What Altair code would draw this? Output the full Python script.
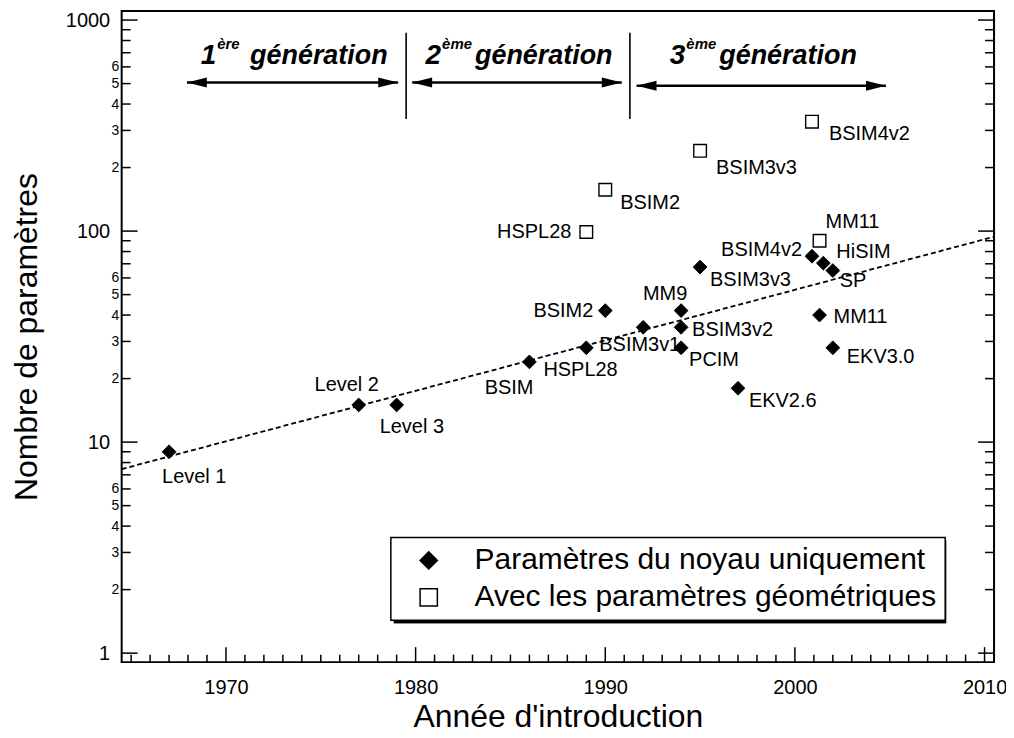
import altair as alt
import pandas as pd

FONT = "Liberation Sans"

# ---------------- data ----------------
SERIES = ["Paramètres du noyau uniquement", "Avec les paramètres géométriques"]

CORE_NAMES = ["Level 1", "Level 2", "Level 3", "BSIM", "HSPL28", "BSIM2", "BSIM3v1",
              "MM9", "BSIM3v2", "PCIM", "BSIM3v3", "EKV2.6", "BSIM4v2", "MM11",
              "HiSIM", "SP", "EKV3.0"]
CORE_YEARS = [1967, 1977, 1979, 1986, 1989, 1990, 1992,
              1994, 1994, 1994, 1995, 1997, 2000.9, 2001.3,
              2001.5, 2002, 2002]
CORE_PARAMS = [9, 15, 15, 24, 28, 42, 35,
               42, 35, 28, 67.5, 18, 76, 40,
               70.5, 65, 28]

GEOM_NAMES = ["HSPL28", "BSIM2", "BSIM3v3", "BSIM4v2", "MM11"]
GEOM_YEARS = [1989, 1990, 1995, 2000.9, 2001.3]
GEOM_PARAMS = [99, 157, 240, 330, 90]

TREND_YEARS = [1964.5, 2010.5]
TREND_PARAMS = [7.45, 94]

GEN_CENTERS = [1973.48, 1985.34, 1998.22]
GEN_NUMBERS = ["1", "2", "3"]
GEN_SUPERS = ["ère", "ème", "ème"]
GEN_WORD = "génération"
GEN_BOUNDARIES = [1979.5, 1991.3]
ARROW_START = [1967.94, 1979.82, 1991.65]
ARROW_END = [1979.08, 1990.87, 2004.80]

X_LABELS = [1970, 1980, 1990, 2000, 2010]
X_MINOR = [y for y in range(1965, 2011) if y % 10 != 0]
Y_MAJOR = [1, 10, 100, 1000]
Y_MINOR = [m * 10 ** e for e in range(3) for m in range(2, 10)]
Y_LABELS = [1, 2, 3, 4, 5, 6, 10, 20, 30, 40, 50, 60, 100, 200, 300, 400, 500, 600, 1000]

# label placement: (align, dx, dy)
CORE_LABEL_POS = {
    "Level 1": ("left", -7, 25), "Level 2": ("center", -12, -20),
    "Level 3": ("left", -17, 22), "BSIM": ("right", 4, 26),
    "HSPL28": ("left", -43, 22), "BSIM2": ("right", -12, 0),
    "BSIM3v1": ("left", -44, 18), "MM9": ("center", -16, -17),
    "BSIM3v2": ("left", 11, 3), "PCIM": ("left", 8, 12),
    "BSIM3v3": ("left", 10, 13), "EKV2.6": ("left", 11, 13),
    "BSIM4v2": ("right", -10, -6), "MM11": ("left", 14, 2),
    "HiSIM": ("left", 13, -11), "SP": ("left", 7, 10),
    "EKV3.0": ("left", 14, 9),
}
GEOM_LABEL_POS = {
    "HSPL28": ("right", -15, 0), "BSIM2": ("left", 15, 13),
    "BSIM3v3": ("left", 16, 17), "BSIM4v2": ("left", 17, 12),
    "MM11": ("left", 6, -19),
}

W, H = 875, 653

core_df = pd.DataFrame({"name": CORE_NAMES, "year": CORE_YEARS, "params": CORE_PARAMS, "series": SERIES[0]})
geom_df = pd.DataFrame({"name": GEOM_NAMES, "year": GEOM_YEARS, "params": GEOM_PARAMS, "series": SERIES[1]})
trend_df = pd.DataFrame({"year": TREND_YEARS, "params": TREND_PARAMS})
gen_df = pd.DataFrame({"year": GEN_CENTERS, "num": GEN_NUMBERS, "sup": GEN_SUPERS, "word": GEN_WORD})
bound_df = pd.DataFrame({"year": GEN_BOUNDARIES})
arrow_df = pd.DataFrame({"year": ARROW_START, "year_end": ARROW_END, "idx": [0, 1, 2]})

major_test = "datum.value == 1 || datum.value == 10 || datum.value == 100 || datum.value == 1000"
x_scale = alt.Scale(domain=[1964.5, 2010.5], nice=False, zero=False)

x_enc = alt.X(
    "year:Q",
    scale=x_scale,
    axis=alt.Axis(values=X_LABELS, format="d", ticks=False, domain=False, grid=False,
                  labelFontSize=20, labelFont=FONT, labelColor="black", labelPadding=15,
                  labelFlush=False, labelOverlap=False,
                  title="Année d'introduction", titleFont=FONT, titleFontSize=32,
                  titleFontWeight="normal", titleColor="black", titlePadding=5),
)
y_enc = alt.Y(
    "params:Q",
    scale=alt.Scale(type="log", domain=[0.9066, 1103], nice=False),
    axis=alt.Axis(values=Y_LABELS, ticks=False, domain=False, grid=False,
                  labelExpr="(" + major_test + ") ? format(datum.value, 'd') : "
                            "format(datum.value / pow(10, floor(log(datum.value) / LN10 + 1e-6)), '.0f')",
                  labelFontSize={"condition": {"test": major_test, "value": 20}, "value": 14},
                  labelPadding={"condition": {"test": major_test, "value": 12}, "value": 3},
                  labelFont=FONT, labelColor="black", labelOverlap=False, labelFlush=False,
                  title="Nombre de paramètres", titleFont=FONT, titleFontSize=32,
                  titleFontWeight="normal", titleColor="black", titlePadding=22),
)

LEG_X, LEG_Y, LEG_W, LEG_H = 270, 528, 554, 83
legend = alt.Legend(orient="none", legendX=LEG_X, legendY=LEG_Y, title=None, direction="vertical",
                    labelFont=FONT, labelFontSize=30, labelColor="black", labelLimit=0,
                    labelOffset=31, symbolOffset=15, padding=8, rowPadding=7,
                    symbolSize=300, symbolStrokeColor="black", symbolStrokeWidth=1.5,
                    strokeColor="black", fillColor="white", zindex=3)
shape_enc = alt.Shape("series:N", scale=alt.Scale(domain=SERIES, range=["diamond", "square"]), legend=legend)
fill_enc = alt.Fill("series:N", scale=alt.Scale(domain=SERIES, range=["black", "white"]), legend=legend)
stroke_enc = alt.Stroke("series:N", scale=alt.Scale(domain=SERIES, range=["black", "black"]), legend=legend)

layers = []

# trend line
layers.append(alt.Chart(trend_df).mark_line(color="black", strokeWidth=1.8, strokeDash=[5, 3])
              .encode(x=x_enc, y=y_enc))

# ticks (inward)
xmaj = pd.DataFrame({"year": X_LABELS})
xmin = pd.DataFrame({"year": X_MINOR})
ymaj = pd.DataFrame({"params": Y_MAJOR})
ymin = pd.DataFrame({"params": Y_MINOR})
tick_style = dict(color="black", strokeWidth=1.5)
layers.append(alt.Chart(xmaj).mark_rule(**tick_style).encode(x=x_enc, y=alt.value(H), y2=alt.value(H - 15)))
layers.append(alt.Chart(xmin).mark_rule(**tick_style).encode(x=x_enc, y=alt.value(H), y2=alt.value(H - 7.5)))
for x0, sgn in [(0, 1), (W, -1)]:
    layers.append(alt.Chart(ymaj).mark_rule(**tick_style).encode(y=y_enc, x=alt.value(x0), x2=alt.value(x0 + sgn * 16)))
    layers.append(alt.Chart(ymin).mark_rule(**tick_style).encode(y=y_enc, x=alt.value(x0), x2=alt.value(x0 + sgn * 9)))

# generation boundaries
layers.append(alt.Chart(bound_df).mark_rule(color="black", strokeWidth=1.6)
              .encode(x=x_enc, y=alt.value(21.7), y2=alt.value(108.3)))

# arrows
ARROW_Y = [71.7, 71.7, 75.0]
LEFT_HEAD = "M0,0L2,-0.5L2,0.5Z"
RIGHT_HEAD = "M0,0L-2,-0.5L-2,0.5Z"
for i in range(3):
    base = alt.Chart(arrow_df).transform_filter(alt.datum.idx == i)
    layers.append(base.mark_rule(color="black", strokeWidth=2.5)
                  .encode(x=x_enc, x2=alt.X2("year_end:Q"), y=alt.value(ARROW_Y[i])))
    layers.append(base.mark_point(shape=LEFT_HEAD, size=400, filled=True, color="black", opacity=1)
                  .encode(x=x_enc, y=alt.value(ARROW_Y[i])))
    layers.append(base.mark_point(shape=RIGHT_HEAD, size=400, filled=True, color="black", opacity=1)
                  .encode(x=alt.X("year_end:Q", scale=x_scale), y=alt.value(ARROW_Y[i])))

# generation headings
head_style = dict(font=FONT, fontStyle="italic", fontWeight="bold", color="black", baseline="alphabetic")
gen = alt.Chart(gen_df)
layers.append(gen.mark_text(align="right", dx=-76, fontSize=28, **head_style)
              .encode(x=x_enc, y=alt.value(53.3), text="num:N"))
layers.append(gen.mark_text(align="left", dx=-75, fontSize=15, **head_style)
              .encode(x=x_enc, y=alt.value(38.5), text="sup:N"))
layers.append(gen.mark_text(align="left", dx=-42, fontSize=27, **head_style)
              .encode(x=x_enc, y=alt.value(53.3), text="word:N"))

# legend drop shadow
layers.append(alt.Chart(trend_df).mark_rect(color="black")
              .encode(x=alt.value(LEG_X + 3), x2=alt.value(LEG_X + 3 + LEG_W),
                      y=alt.value(LEG_Y + 3), y2=alt.value(LEG_Y + 3 + LEG_H)))

# points
layers.append(alt.Chart(core_df).mark_point(filled=True, size=190, strokeWidth=1,
                                            opacity=1, fillOpacity=1)
              .encode(x=x_enc, y=y_enc, shape=shape_enc, fill=fill_enc, stroke=stroke_enc))
layers.append(alt.Chart(geom_df).mark_point(filled=True, size=160, strokeWidth=1.4,
                                            opacity=1, fillOpacity=1)
              .encode(x=x_enc, y=y_enc, shape=shape_enc, fill=fill_enc, stroke=stroke_enc))

# point labels
for df, pos in [(core_df, CORE_LABEL_POS), (geom_df, GEOM_LABEL_POS)]:
    for name, (align, dx, dy) in pos.items():
        layers.append(alt.Chart(df).transform_filter(alt.datum.name == name)
                      .mark_text(align=align, dx=dx, dy=dy, baseline="middle", font=FONT,
                                 fontSize=20, color="black")
                      .encode(x=x_enc, y=y_enc, text="name:N"))

chart = alt.layer(*layers).properties(
    width=W, height=H,
    autosize=alt.AutoSizeParams(type="none"),
    padding={"left": 114, "top": 2, "right": 12, "bottom": 72},
    background="white",
).configure_view(stroke="black", strokeWidth=2).configure_legend(strokeWidth=1.5)

chart.save("out.html", embed_options={"renderer": "svg", "actions": False})
